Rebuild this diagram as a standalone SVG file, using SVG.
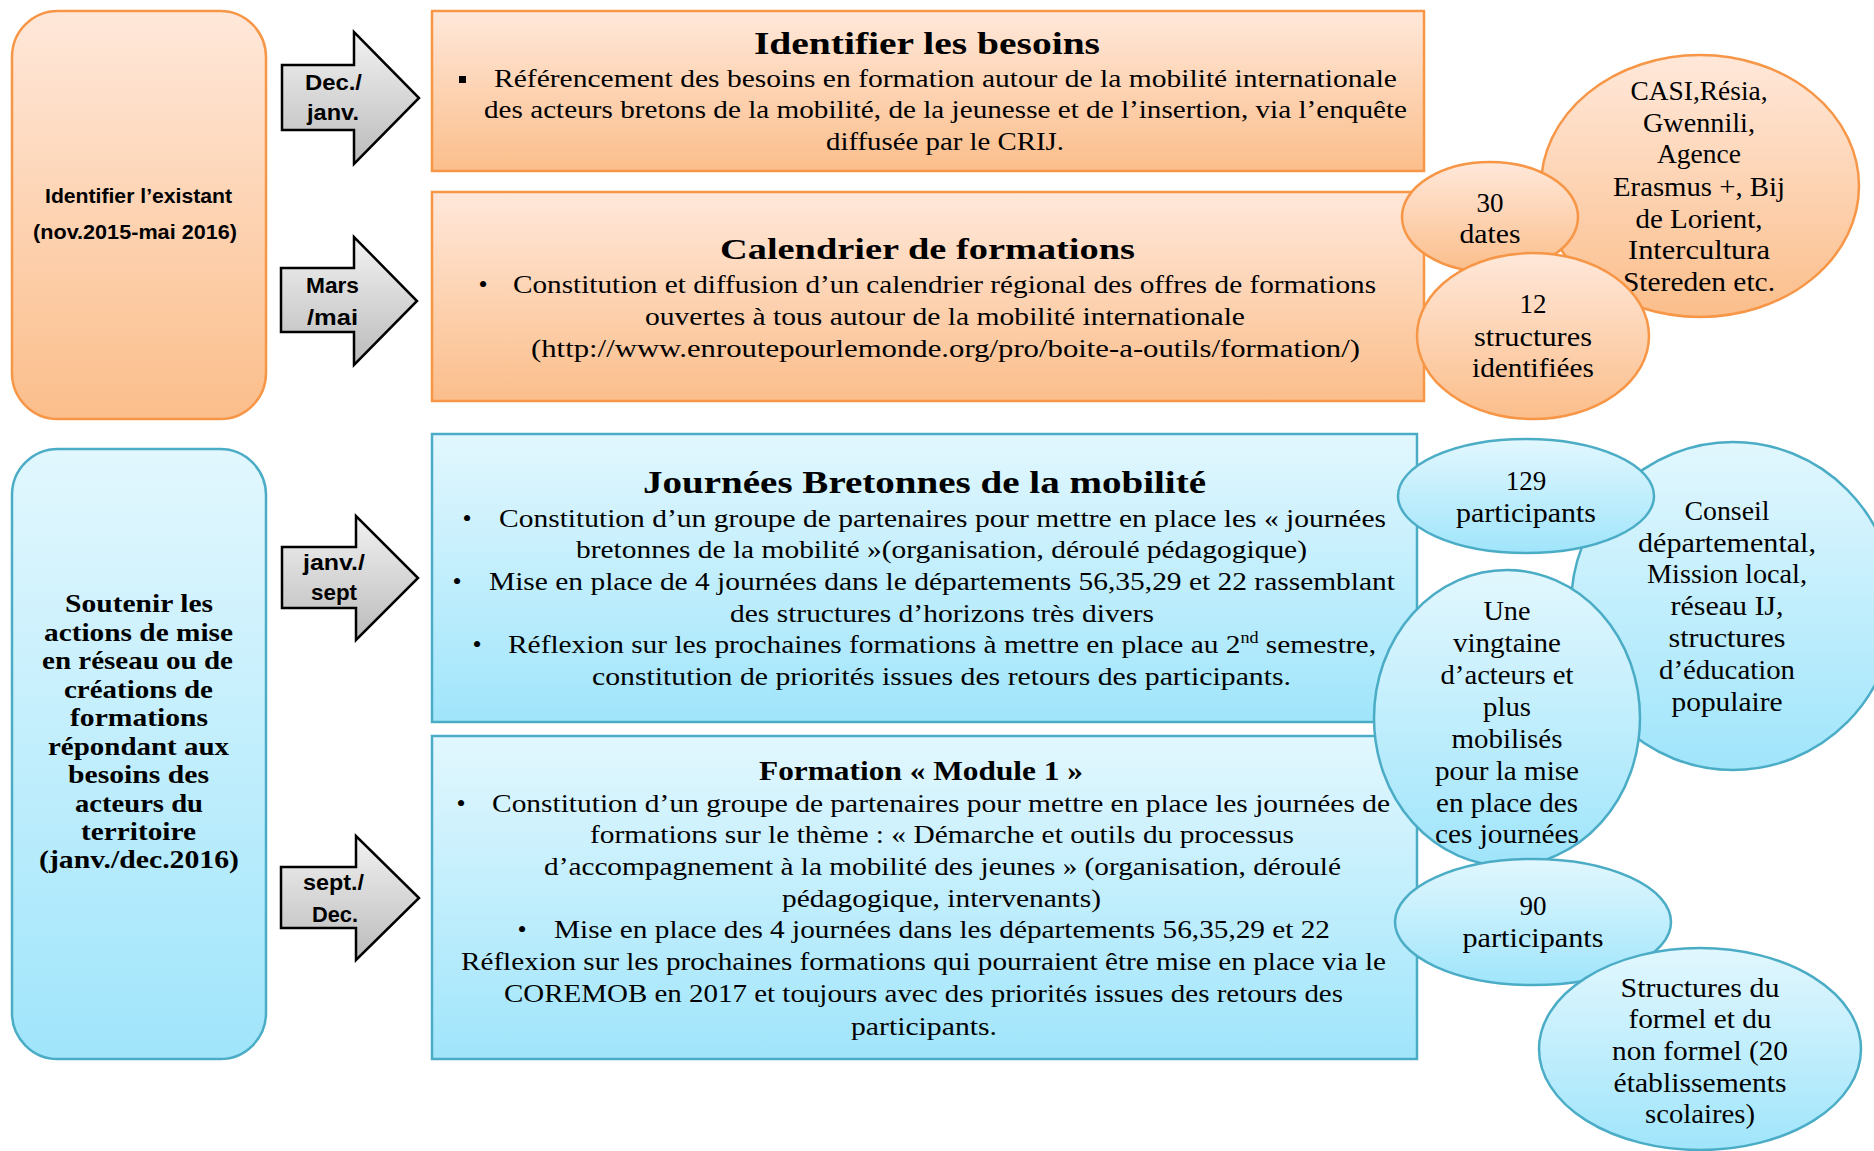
<svg xmlns="http://www.w3.org/2000/svg" width="1874" height="1151" viewBox="0 0 1874 1151">
<defs>
<linearGradient id="gO" x1="0" y1="0" x2="0" y2="1"><stop offset="0" stop-color="#FFE8DA"/><stop offset="1" stop-color="#FBBE8B"/></linearGradient>
<linearGradient id="gB" x1="0" y1="0" x2="0" y2="1"><stop offset="0" stop-color="#E2F7FE"/><stop offset="1" stop-color="#A0E5FB"/></linearGradient>
<linearGradient id="gG" x1="0" y1="0" x2="0" y2="1"><stop offset="0" stop-color="#F2F2F2"/><stop offset="1" stop-color="#BBBBBB"/></linearGradient>
<style>
.o{fill:url(#gO);stroke:#F79646;stroke-width:2.5}
.b{fill:url(#gB);stroke:#4BACC6;stroke-width:2.5}
.arr{fill:url(#gG);stroke:#000;stroke-width:2.5;stroke-linejoin:miter}
text{fill:#000}
.s{font-family:"Liberation Serif","DejaVu Serif",serif;font-size:26px}
.t{font-family:"Liberation Serif","DejaVu Serif",serif;font-weight:bold}
.sb{font-family:"Liberation Sans","DejaVu Sans",sans-serif;font-weight:bold}
.e{font-family:"Liberation Serif","DejaVu Serif",serif;font-size:27px;text-anchor:middle}
.lb{font-family:"Liberation Serif","DejaVu Serif",serif;font-weight:bold;font-size:26px}
.bu{font-family:"Liberation Serif","DejaVu Serif",serif;font-size:26px;text-anchor:middle}
</style>
</defs>

<g id="phase1">
<rect x="12" y="11" width="254" height="408" rx="46" ry="46" class="o"/>
<text class="sb" font-size="20" x="45" y="203" textLength="187" lengthAdjust="spacingAndGlyphs">Identifier l’existant</text>
<text class="sb" font-size="20" x="33" y="239" textLength="204" lengthAdjust="spacingAndGlyphs">(nov.2015-mai 2016)</text>
</g>

<g id="phase2">
<rect x="12" y="449" width="254" height="610" rx="46" ry="46" class="b"/>
<text class="lb" x="65" y="612" textLength="148" lengthAdjust="spacingAndGlyphs">Soutenir les</text>
<text class="lb" x="44" y="641" textLength="189" lengthAdjust="spacingAndGlyphs">actions de mise</text>
<text class="lb" x="42" y="669" textLength="191" lengthAdjust="spacingAndGlyphs">en réseau ou de</text>
<text class="lb" x="64" y="698" textLength="149" lengthAdjust="spacingAndGlyphs">créations de</text>
<text class="lb" x="70" y="726" textLength="138" lengthAdjust="spacingAndGlyphs">formations</text>
<text class="lb" x="48" y="755" textLength="181" lengthAdjust="spacingAndGlyphs">répondant aux</text>
<text class="lb" x="68" y="783" textLength="141" lengthAdjust="spacingAndGlyphs">besoins des</text>
<text class="lb" x="75" y="812" textLength="128" lengthAdjust="spacingAndGlyphs">acteurs du</text>
<text class="lb" x="81" y="840" textLength="115" lengthAdjust="spacingAndGlyphs">territoire</text>
<text class="lb" x="39" y="868" textLength="200" lengthAdjust="spacingAndGlyphs">(janv./dec.2016)</text>
</g>

<g id="connectors">
<g id="arrow-dec">
<polygon class="arr" points="282,65 354,65 354,32 419,98 354,164 354,130 282,130"/>
<text class="sb" font-size="22" x="305" y="90" textLength="57" lengthAdjust="spacingAndGlyphs">Dec./</text>
<text class="sb" font-size="22" x="307" y="120" textLength="52" lengthAdjust="spacingAndGlyphs">janv.</text>
</g>
<g id="arrow-mars">
<polygon class="arr" points="281,268 354,268 354,237 417,301 354,365 354,332 281,332"/>
<text class="sb" font-size="22" x="306" y="293" textLength="53" lengthAdjust="spacingAndGlyphs">Mars</text>
<text class="sb" font-size="22" x="307" y="325" textLength="51" lengthAdjust="spacingAndGlyphs">/mai</text>
</g>
<g id="arrow-janv">
<polygon class="arr" points="282,547 356,547 356,516 418,578 356,640 356,608 282,608"/>
<text class="sb" font-size="22" x="303" y="570" textLength="62" lengthAdjust="spacingAndGlyphs">janv./</text>
<text class="sb" font-size="22" x="311" y="600" textLength="46" lengthAdjust="spacingAndGlyphs">sept</text>
</g>
<g id="arrow-sept">
<polygon class="arr" points="281,867 356,867 356,836 419,898 356,960 356,928 281,928"/>
<text class="sb" font-size="22" x="303" y="890" textLength="61" lengthAdjust="spacingAndGlyphs">sept./</text>
<text class="sb" font-size="22" x="312" y="922" textLength="46" lengthAdjust="spacingAndGlyphs">Dec.</text>
</g>
</g>

<g id="besoins">
<rect x="432" y="11" width="992" height="160" class="o"/>
<text class="t" font-size="31" x="754" y="54" textLength="346" lengthAdjust="spacingAndGlyphs">Identifier les besoins</text>
<rect x="459" y="76" width="7" height="7" fill="#000"/>
<text class="s" x="494" y="87" textLength="903" lengthAdjust="spacingAndGlyphs">Référencement des besoins en formation autour de la mobilité internationale</text>
<text class="s" x="484" y="118" textLength="923" lengthAdjust="spacingAndGlyphs">des acteurs bretons de la mobilité, de la jeunesse et de l’insertion, via l’enquête</text>
<text class="s" x="826" y="150" textLength="238" lengthAdjust="spacingAndGlyphs">diffusée par le CRIJ.</text>
</g>

<g id="calendrier">
<rect x="432" y="192" width="992" height="209" class="o"/>
<text class="t" font-size="30" x="720" y="259" textLength="415" lengthAdjust="spacingAndGlyphs">Calendrier de formations</text>
<text class="bu" x="483" y="293">•</text>
<text class="s" x="513" y="293" textLength="863" lengthAdjust="spacingAndGlyphs">Constitution et diffusion d’un calendrier régional des offres de formations</text>
<text class="s" x="645" y="325" textLength="600" lengthAdjust="spacingAndGlyphs">ouvertes à tous autour de la mobilité internationale</text>
<text class="s" x="531" y="357" textLength="829" lengthAdjust="spacingAndGlyphs">(http://www.enroutepourlemonde.org/pro/boite-a-outils/formation/)</text>
</g>

<g id="journees">
<rect x="432" y="434" width="985" height="288" class="b"/>
<text class="t" font-size="32" x="643" y="493" textLength="563" lengthAdjust="spacingAndGlyphs">Journées Bretonnes de la mobilité</text>
<text class="bu" x="467" y="527">•</text>
<text class="s" x="499" y="527" textLength="887" lengthAdjust="spacingAndGlyphs">Constitution d’un groupe de partenaires pour mettre en place les « journées</text>
<text class="s" x="576" y="558" textLength="731" lengthAdjust="spacingAndGlyphs">bretonnes de la mobilité »(organisation, déroulé pédagogique)</text>
<text class="bu" x="457" y="590">•</text>
<text class="s" x="489" y="590" textLength="906" lengthAdjust="spacingAndGlyphs">Mise en place de 4 journées dans le départements 56,35,29 et 22 rassemblant</text>
<text class="s" x="730" y="622" textLength="424" lengthAdjust="spacingAndGlyphs">des structures d’horizons très divers</text>
<text class="bu" x="477" y="653">•</text>
<text class="s" x="508" y="653" textLength="868" lengthAdjust="spacingAndGlyphs">Réflexion sur les prochaines formations à mettre en place au 2<tspan font-size="16" dy="-10">nd</tspan><tspan dy="10"> semestre,</tspan></text>
<text class="s" x="592" y="685" textLength="699" lengthAdjust="spacingAndGlyphs">constitution de priorités issues des retours des participants.</text>
</g>

<g id="module1">
<rect x="432" y="736" width="985" height="323" class="b"/>
<text class="t" font-size="27" x="759" y="780" textLength="324" lengthAdjust="spacingAndGlyphs">Formation « Module 1 »</text>
<text class="bu" x="461" y="812">•</text>
<text class="s" x="492" y="812" textLength="898" lengthAdjust="spacingAndGlyphs">Constitution d’un groupe de partenaires pour mettre en place les journées de</text>
<text class="s" x="590" y="843" textLength="704" lengthAdjust="spacingAndGlyphs">formations sur le thème : « Démarche et outils du processus</text>
<text class="s" x="544" y="875" textLength="797" lengthAdjust="spacingAndGlyphs">d’accompagnement à la mobilité des jeunes » (organisation, déroulé</text>
<text class="s" x="782" y="907" textLength="319" lengthAdjust="spacingAndGlyphs">pédagogique, intervenants)</text>
<text class="bu" x="522" y="938">•</text>
<text class="s" x="554" y="938" textLength="776" lengthAdjust="spacingAndGlyphs">Mise en place des 4 journées dans les départements 56,35,29 et 22</text>
<text class="s" x="461" y="970" textLength="925" lengthAdjust="spacingAndGlyphs">Réflexion sur les prochaines formations qui pourraient être mise en place via le</text>
<text class="s" x="504" y="1002" textLength="839" lengthAdjust="spacingAndGlyphs">COREMOB en 2017 et toujours avec des priorités issues des retours des</text>
<text class="s" x="851" y="1035" textLength="146" lengthAdjust="spacingAndGlyphs">participants.</text>
</g>

<g id="casi">
<ellipse cx="1700" cy="186" rx="159" ry="131" class="o"/>
<text class="e" x="1699" y="100" textLength="137" lengthAdjust="spacingAndGlyphs">CASI,Résia,</text>
<text class="e" x="1699" y="132" textLength="112" lengthAdjust="spacingAndGlyphs">Gwennili,</text>
<text class="e" x="1699" y="163" textLength="84" lengthAdjust="spacingAndGlyphs">Agence</text>
<text class="e" x="1699" y="196" textLength="172" lengthAdjust="spacingAndGlyphs">Erasmus +, Bij</text>
<text class="e" x="1699" y="228" textLength="127" lengthAdjust="spacingAndGlyphs">de Lorient,</text>
<text class="e" x="1699" y="259" textLength="142" lengthAdjust="spacingAndGlyphs">Intercultura</text>
<text class="e" x="1699" y="291" textLength="152" lengthAdjust="spacingAndGlyphs">Stereden etc.</text>
</g>

<g id="dates30">
<ellipse cx="1490" cy="217" rx="88" ry="55" class="o"/>
<text class="e" x="1490" y="212">30</text>
<text class="e" x="1490" y="243" textLength="61" lengthAdjust="spacingAndGlyphs">dates</text>
</g>

<g id="structures12">
<ellipse cx="1533" cy="336" rx="116" ry="83" class="o"/>
<text class="e" x="1533" y="313">12</text>
<text class="e" x="1533" y="346" textLength="118" lengthAdjust="spacingAndGlyphs">structures</text>
<text class="e" x="1533" y="377" textLength="122" lengthAdjust="spacingAndGlyphs">identifiées</text>
</g>

<g id="conseil">
<ellipse cx="1733" cy="606" rx="162" ry="164" class="b"/>
<text class="e" x="1727" y="520" textLength="85" lengthAdjust="spacingAndGlyphs">Conseil</text>
<text class="e" x="1727" y="552" textLength="178" lengthAdjust="spacingAndGlyphs">départemental,</text>
<text class="e" x="1727" y="583" textLength="160" lengthAdjust="spacingAndGlyphs">Mission local,</text>
<text class="e" x="1727" y="615" textLength="113" lengthAdjust="spacingAndGlyphs">réseau IJ,</text>
<text class="e" x="1727" y="647" textLength="117" lengthAdjust="spacingAndGlyphs">structures</text>
<text class="e" x="1727" y="679" textLength="136" lengthAdjust="spacingAndGlyphs">d’éducation</text>
<text class="e" x="1727" y="711" textLength="111" lengthAdjust="spacingAndGlyphs">populaire</text>
</g>

<g id="participants129">
<ellipse cx="1526" cy="496" rx="128" ry="57" class="b"/>
<text class="e" x="1526" y="490">129</text>
<text class="e" x="1526" y="522" textLength="140" lengthAdjust="spacingAndGlyphs">participants</text>
</g>

<g id="vingtaine">
<ellipse cx="1507" cy="718" rx="133" ry="148" class="b"/>
<text class="e" x="1507" y="620" textLength="47" lengthAdjust="spacingAndGlyphs">Une</text>
<text class="e" x="1507" y="652" textLength="108" lengthAdjust="spacingAndGlyphs">vingtaine</text>
<text class="e" x="1507" y="684" textLength="133" lengthAdjust="spacingAndGlyphs">d’acteurs et</text>
<text class="e" x="1507" y="716" textLength="48" lengthAdjust="spacingAndGlyphs">plus</text>
<text class="e" x="1507" y="748" textLength="111" lengthAdjust="spacingAndGlyphs">mobilisés</text>
<text class="e" x="1507" y="780" textLength="144" lengthAdjust="spacingAndGlyphs">pour la mise</text>
<text class="e" x="1507" y="812" textLength="142" lengthAdjust="spacingAndGlyphs">en place des</text>
<text class="e" x="1507" y="843" textLength="144" lengthAdjust="spacingAndGlyphs">ces journées</text>
</g>

<g id="participants90">
<ellipse cx="1533" cy="922" rx="138" ry="63" class="b"/>
<text class="e" x="1533" y="915">90</text>
<text class="e" x="1533" y="947" textLength="141" lengthAdjust="spacingAndGlyphs">participants</text>
</g>

<g id="formel">
<ellipse cx="1700" cy="1049" rx="161" ry="101" class="b"/>
<text class="e" x="1700" y="997" textLength="159" lengthAdjust="spacingAndGlyphs">Structures du</text>
<text class="e" x="1700" y="1028" textLength="143" lengthAdjust="spacingAndGlyphs">formel et du</text>
<text class="e" x="1700" y="1060" textLength="176" lengthAdjust="spacingAndGlyphs">non formel (20</text>
<text class="e" x="1700" y="1092" textLength="173" lengthAdjust="spacingAndGlyphs">établissements</text>
<text class="e" x="1700" y="1123" textLength="110" lengthAdjust="spacingAndGlyphs">scolaires)</text>
</g>
</svg>
